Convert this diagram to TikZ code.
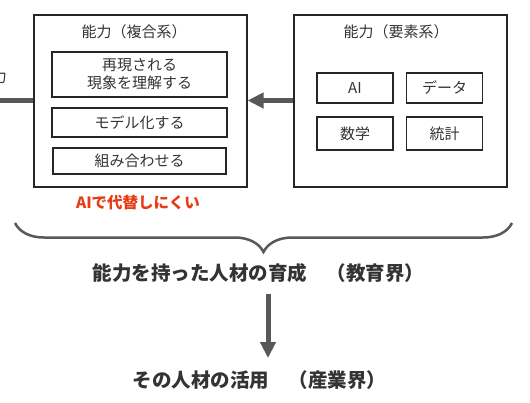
\documentclass[tikz,border=0pt]{standalone}
\usepackage{fontspec}
\setmainfont{Noto Sans CJK JP}
\usepackage{xcolor}
\usetikzlibrary{arrows.meta,positioning,decorations.pathreplacing}
\definecolor{textgray}{HTML}{333333}
\definecolor{linegray}{HTML}{585858}
\definecolor{warnred}{HTML}{E63B14}

\begin{document}
\begin{tikzpicture}[x=1pt, y=-1pt,
  outer/.style={draw=black!85, line width=2pt, minimum width=213pt, minimum height=172pt, inner sep=0pt},
  skill/.style={draw=black!85, line width=1.6pt, align=center, inner sep=0pt,
    font=\fontsize{15}{18}\selectfont, text=textgray},
  title/.style={font=\fontsize{15}{18}\selectfont, text=textgray},
  flow/.style={draw=linegray, line width=5pt, -{Triangle[length=16pt, width=15pt]}}]

  \useasboundingbox (0,0) rectangle (530,402);
  \clip (0,0) rectangle (530,402);

  % Composite skills (left box)
  \node[outer] (complex) at (140,100.5) {};
  \node[title] (ctitle) at (134,32) {能力（複合系）};
  \node[skill, minimum width=175pt, minimum height=45pt] (c1) at (139.5,74.5) {再現される\\現象を理解する};
  \node[skill, minimum width=175pt, minimum height=29pt] (c2) at (139.5,122.5) {モデル化する};
  \node[skill, minimum width=173pt, minimum height=26pt] (c3) at (139.5,161) {組み合わせる};
  \node[font=\fontsize{15.5}{18}\selectfont\bfseries, text=warnred] (hard) at (138,203) {AIで代替しにくい};

  % Element skills (right box)
  \node[outer] (element) at (400,100.5) {};
  \node[title] (etitle) at (396,32) {能力（要素系）};
  \node[skill, minimum width=76pt, minimum height=30pt] (ai) at (355,88) {AI};
  \node[skill, minimum width=76pt, minimum height=30pt] (data) at (444.5,88) {データ};
  \node[skill, minimum width=76pt, minimum height=33pt] (math) at (355,133.5) {数学};
  \node[skill, minimum width=76pt, minimum height=33pt] (stat) at (444.5,133.5) {統計};

  % Cut-off part on the left
  \node[title, anchor=east, inner sep=0pt] (cut) at (7,77) {力};
  \coordinate (edge) at (0,100);

  % Brace and results
  \coordinate (braceL) at (15,223);
  \coordinate (braceR) at (512,223);
  \node[font=\fontsize{19.5}{23}\selectfont\bfseries, text=textgray] (training) at (258.5,273) {能力を持った人材の育成　（教育界）};
  \node[font=\fontsize{19.5}{23}\selectfont\bfseries, text=textgray] (use) at (259.5,380) {その人材の活用　（産業界）};

  % Connecting edges
  \draw[flow] (element) -- (complex);
  \draw[draw=linegray, line width=5pt] (edge) -- (complex.west |- edge);
  \draw[draw=linegray, line width=2.5pt, decorate,
    decoration={brace, amplitude=29pt, aspect=0.5}] (braceR) -- (braceL);
  \draw[flow, shorten <=8pt, shorten >=9pt] ([xshift=9.5pt]training.south) -- ([xshift=9.5pt]training.south |- use.north);

\end{tikzpicture}
\end{document}
